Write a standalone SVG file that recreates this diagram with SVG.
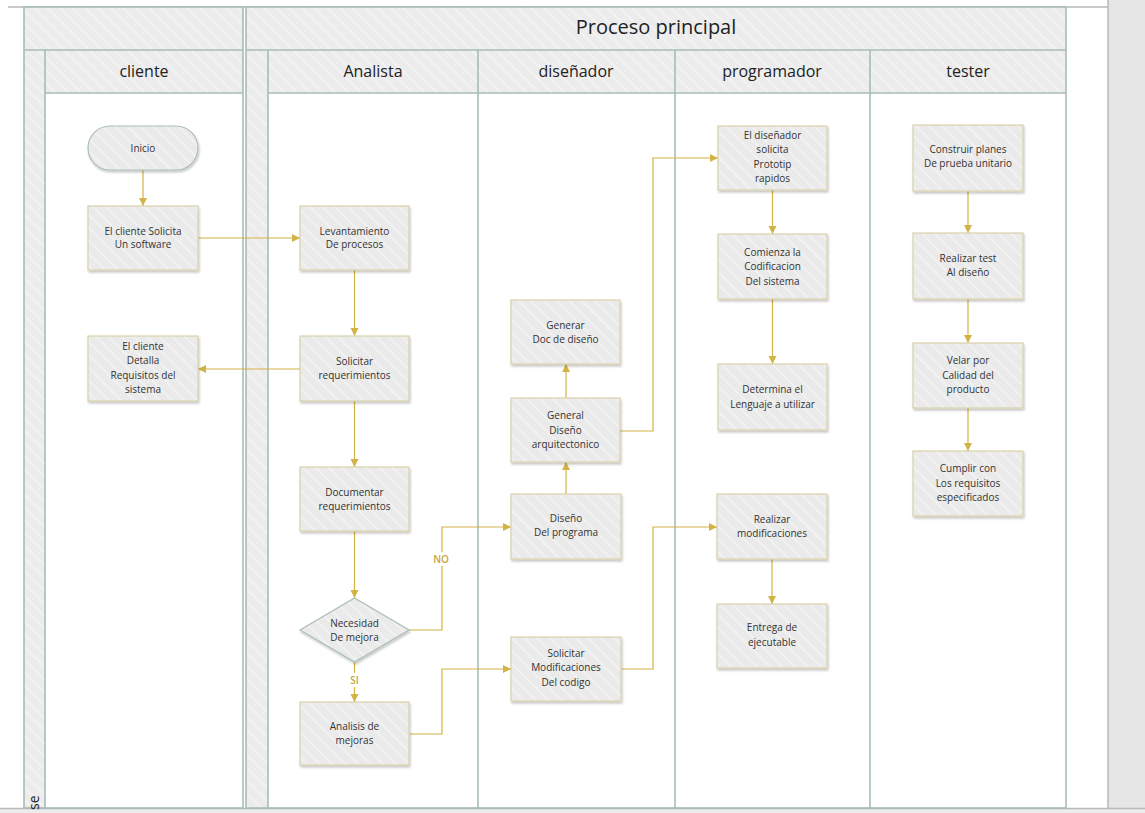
<svg xmlns="http://www.w3.org/2000/svg" width="1145" height="813" viewBox="0 0 1145 813">
  <defs>
    <pattern id="hatch" patternUnits="userSpaceOnUse" width="9" height="9" patternTransform="rotate(-45)">
      <rect width="9" height="9" fill="#ececec"/>
      <rect width="1.4" height="9" fill="#f5f5f5"/>
    </pattern>
    <pattern id="hatchNode" patternUnits="userSpaceOnUse" width="9" height="9" patternTransform="rotate(-45)">
      <rect width="9" height="9" fill="#eaeaea"/>
      <rect width="1.4" height="9" fill="#f4f4f4"/>
    </pattern>
    <filter id="shadow" x="-10%" y="-10%" width="125%" height="130%">
      <feDropShadow dx="1" dy="2" stdDeviation="1.3" flood-color="#000" flood-opacity="0.22"/>
    </filter>
    <marker id="arrow" markerUnits="userSpaceOnUse" markerWidth="9" markerHeight="9" refX="8" refY="4" orient="auto">
      <path d="M0,0 L8,4 L0,8 z" fill="#d3b246"/>
    </marker>
    <style>
      .pool { fill: none; stroke: #a8bcb6; stroke-width: 1.6; }
      .band { fill: url(#hatch); }
      .sep { stroke: #a8bcb6; stroke-width: 1.6; fill: none; }
      .hdr { font-family: "Open Sans", "Noto Sans", sans-serif; fill: #222; text-anchor: middle; }
      .node rect.box { fill: url(#hatchNode); stroke: #d9d1a9; stroke-width: 1.2; filter: url(#shadow); }
      .node .term { fill: url(#hatchNode); stroke: #a9bdb7; stroke-width: 1.2; filter: url(#shadow); }
      .node text { font-family: "Open Sans", "Noto Sans", sans-serif; font-size: 10px; fill: #333; text-anchor: middle; }
      .edge { fill: none; stroke: #d3b246; stroke-width: 1.2; marker-end: url(#arrow); }
      .lbl { font-family: "Open Sans", "Noto Sans", sans-serif; font-size: 10px; font-weight: 600; fill: #c4a53c; text-anchor: middle; }
    </style>
  </defs>

  <!-- canvas -->
  <rect width="1145" height="813" fill="#ffffff"/>
  <rect x="1108" y="0" width="37" height="813" fill="#e6e6e6"/>
  <line x1="1108" y1="0" x2="1108" y2="808" stroke="#b3b8c4" stroke-width="1.5"/>
  <rect x="0" y="808" width="1145" height="5" fill="#ececec"/>
  <line x1="8" y1="7" x2="1108" y2="7" stroke="#b9b9b9" stroke-width="1.5"/>
  <line x1="0" y1="808.5" x2="1145" y2="808.5" stroke="#b9b9b9" stroke-width="1.5"/>

  <!-- pool 1: cliente -->
  <g id="pool-cliente">
    <rect class="band" x="24" y="7" width="219" height="86"/>
    <rect class="band" x="24" y="93" width="21" height="715"/>
    <rect class="pool" x="24" y="7" width="219" height="801"/>
    <line class="sep" x1="24" y1="50" x2="243" y2="50"/>
    <line class="sep" x1="45" y1="50" x2="45" y2="808"/>
    <line class="sep" x1="45" y1="93" x2="243" y2="93"/>
    <text class="hdr" x="144" y="77" font-size="16">cliente</text>
    <text font-family="Open Sans, Noto Sans, sans-serif" font-size="14" fill="#222" transform="translate(39,810) rotate(-90)">se</text>
  </g>

  <!-- pool 2: Proceso principal -->
  <g id="pool-proceso">
    <rect class="band" x="246" y="7" width="820" height="86"/>
    <rect class="band" x="246" y="93" width="22" height="715"/>
    <rect class="pool" x="246" y="7" width="820" height="801"/>
    <line class="sep" x1="246" y1="50" x2="1066" y2="50"/>
    <line class="sep" x1="268" y1="50" x2="268" y2="808"/>
    <line class="sep" x1="268" y1="93" x2="1066" y2="93"/>
    <line class="sep" x1="478" y1="50" x2="478" y2="808"/>
    <line class="sep" x1="675" y1="50" x2="675" y2="808"/>
    <line class="sep" x1="870" y1="50" x2="870" y2="808"/>
    <text class="hdr" x="656" y="34" font-size="20">Proceso principal</text>
    <text class="hdr" x="373" y="77" font-size="16">Analista</text>
    <text class="hdr" x="576" y="77" font-size="16">diseñador</text>
    <text class="hdr" x="772" y="77" font-size="16">programador</text>
    <text class="hdr" x="968" y="77" font-size="16">tester</text>
  </g>

  <!-- connectors -->
  <g id="connectors">
    <path class="edge" d="M143,170 V206"/>
    <path class="edge" d="M198,238 H300"/>
    <path class="edge" d="M354.5,270 V336"/>
    <path class="edge" d="M300,369 H198"/>
    <path class="edge" d="M354.5,401 V467"/>
    <path class="edge" d="M354.5,531 V598"/>
    <path class="edge" d="M409,630 H442 V527 H511"/>
    <path class="edge" d="M354.5,662 V702"/>
    <path class="edge" d="M409,734 H442 V669 H511"/>
    <path class="edge" d="M566,494 V462"/>
    <path class="edge" d="M566,398 V364"/>
    <path class="edge" d="M620,431 H653 V158 H718"/>
    <path class="edge" d="M621,669 H653 V527 H717"/>
    <path class="edge" d="M772.5,190 V234"/>
    <path class="edge" d="M772.5,299 V364"/>
    <path class="edge" d="M772,559 V604"/>
    <path class="edge" d="M968,191 V233"/>
    <path class="edge" d="M968,299 V343"/>
    <path class="edge" d="M968,408 V451"/>
    <rect x="431" y="552" width="22" height="14" fill="#ffffff"/>
    <text class="lbl" x="441" y="563">NO</text>
    <rect x="346" y="673" width="17" height="14" fill="#ffffff"/>
    <text class="lbl" x="354.5" y="684">SI</text>
  </g>

  <!-- cliente lane -->
  <g id="inicio" class="node">
    <rect class="term" x="88" y="126" width="110" height="44" rx="22"/>
    <text x="143" y="151.5">Inicio</text>
  </g>
  <g id="cliente-solicita" class="node">
    <rect class="box" x="88" y="206" width="110" height="64"/>
    <text x="143" y="234.5">El cliente Solicita<tspan x="143" dy="13.5">Un software</tspan></text>
  </g>
  <g id="cliente-detalla" class="node">
    <rect class="box" x="88" y="336" width="110" height="65"/>
    <text x="143" y="350">El cliente<tspan x="143" dy="14">Detalla</tspan><tspan x="143" dy="14.5">Requisitos del</tspan><tspan x="143" dy="14">sistema</tspan></text>
  </g>

  <!-- Analista lane -->
  <g id="levantamiento" class="node">
    <rect class="box" x="300" y="206" width="109" height="64"/>
    <text x="354.5" y="234.5">Levantamiento<tspan x="354.5" dy="13.5">De procesos</tspan></text>
  </g>
  <g id="solicitar-req" class="node">
    <rect class="box" x="300" y="336" width="109" height="65"/>
    <text x="354.5" y="365">Solicitar<tspan x="354.5" dy="14">requerimientos</tspan></text>
  </g>
  <g id="documentar" class="node">
    <rect class="box" x="300" y="467" width="109" height="64"/>
    <text x="354.5" y="495.5">Documentar<tspan x="354.5" dy="14">requerimientos</tspan></text>
  </g>
  <g id="necesidad" class="node">
    <path class="term" d="M354.5,598 L409,630 L354.5,662 L300,630 Z"/>
    <text x="354.5" y="626.5">Necesidad<tspan x="354.5" dy="14">De mejora</tspan></text>
  </g>
  <g id="analisis" class="node">
    <rect class="box" x="300" y="702" width="109" height="63"/>
    <text x="354.5" y="730">Analisis de<tspan x="354.5" dy="14">mejoras</tspan></text>
  </g>

  <!-- diseñador lane -->
  <g id="generar-doc" class="node">
    <rect class="box" x="511" y="300" width="109" height="64"/>
    <text x="565.5" y="328.5">Generar<tspan x="565.5" dy="14">Doc de diseño</tspan></text>
  </g>
  <g id="general-diseno" class="node">
    <rect class="box" x="511" y="398" width="109" height="64"/>
    <text x="565.5" y="419">General<tspan x="565.5" dy="14.5">Diseño</tspan><tspan x="565.5" dy="14">arquitectonico</tspan></text>
  </g>
  <g id="diseno-programa" class="node">
    <rect class="box" x="511" y="494" width="110" height="65"/>
    <text x="566" y="522">Diseño<tspan x="566" dy="14">Del programa</tspan></text>
  </g>
  <g id="solicitar-modif" class="node">
    <rect class="box" x="511" y="637" width="110" height="64"/>
    <text x="566" y="656.5">Solicitar<tspan x="566" dy="14.5">Modificaciones</tspan><tspan x="566" dy="14.5">Del codigo</tspan></text>
  </g>

  <!-- programador lane -->
  <g id="disenador-solicita" class="node">
    <rect class="box" x="718" y="126" width="109" height="64"/>
    <text x="772.5" y="138.5">El diseñador<tspan x="772.5" dy="14.5">solicita</tspan><tspan x="772.5" dy="14.5">Prototip</tspan><tspan x="772.5" dy="14.5">rapidos</tspan></text>
  </g>
  <g id="comienza" class="node">
    <rect class="box" x="718" y="234" width="109" height="65"/>
    <text x="772.5" y="255.5">Comienza la<tspan x="772.5" dy="14.5">Codificacion</tspan><tspan x="772.5" dy="14.5">Del sistema</tspan></text>
  </g>
  <g id="determina" class="node">
    <rect class="box" x="718" y="364" width="109" height="66"/>
    <text x="772.5" y="393">Determina el<tspan x="772.5" dy="14.5">Lenguaje a utilizar</tspan></text>
  </g>
  <g id="realizar-modif" class="node">
    <rect class="box" x="717" y="494" width="110" height="65"/>
    <text x="772" y="522.5">Realizar<tspan x="772" dy="14">modificaciones</tspan></text>
  </g>
  <g id="entrega" class="node">
    <rect class="box" x="717" y="604" width="110" height="64"/>
    <text x="772" y="631">Entrega de<tspan x="772" dy="15">ejecutable</tspan></text>
  </g>

  <!-- tester lane -->
  <g id="construir" class="node">
    <rect class="box" x="913" y="125" width="110" height="66"/>
    <text x="968" y="152.5">Construir planes<tspan x="968" dy="14">De prueba unitario</tspan></text>
  </g>
  <g id="realizar-test" class="node">
    <rect class="box" x="913" y="233" width="110" height="66"/>
    <text x="968" y="261.5">Realizar test<tspan x="968" dy="14">Al diseño</tspan></text>
  </g>
  <g id="velar" class="node">
    <rect class="box" x="913" y="343" width="110" height="65"/>
    <text x="968" y="364">Velar por<tspan x="968" dy="14.5">Calidad del</tspan><tspan x="968" dy="14">producto</tspan></text>
  </g>
  <g id="cumplir" class="node">
    <rect class="box" x="913" y="451" width="110" height="65"/>
    <text x="968" y="472">Cumplir con<tspan x="968" dy="14.5">Los requisitos</tspan><tspan x="968" dy="14">especificados</tspan></text>
  </g>
</svg>
